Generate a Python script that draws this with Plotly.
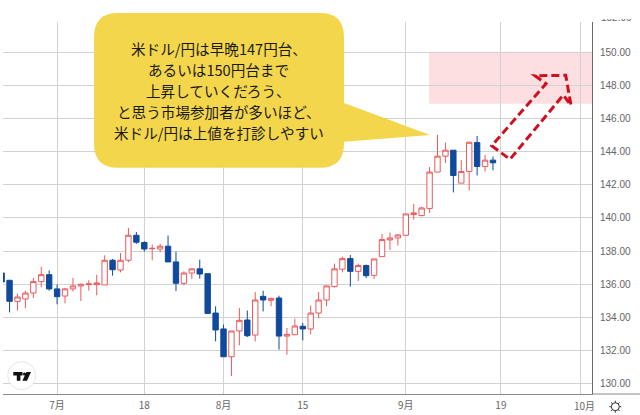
import math
import pandas as pd
import plotly.graph_objects as go

# ---- data -----------------------------------------------------------------
dates = pd.bdate_range("2022-06-22", periods=75).strftime("%Y-%m-%d").tolist()

opens = [136.67, 136.23, 134.96, 135.10, 135.46, 136.15, 136.57, 135.71, 135.28, 135.71, 135.89, 135.97, 135.97,
         135.95, 137.44, 136.85, 137.44, 138.95, 138.51, 138.14, 138.12, 138.29, 137.34, 136.05, 136.67, 136.92,
         136.63, 134.25, 133.29, 131.61, 133.17, 133.83, 132.92, 135.26, 135.02, 135.16, 132.86, 132.94, 133.45,
         133.29, 134.25, 135.04, 135.85, 136.90, 137.54, 136.77, 137.12, 136.53, 137.66, 138.67, 138.79, 138.95,
         140.20, 140.14, 140.56, 142.77, 143.73, 144.09, 142.10, 142.80, 144.55, 143.11, 143.49]
highs = [136.90, 136.25, 135.42, 135.60, 136.37, 137.04, 136.83, 135.97, 135.77, 136.37, 136.03, 136.23, 136.57,
         137.74, 137.52, 137.88, 139.40, 139.15, 138.59, 138.39, 138.43, 138.93, 137.96, 136.77, 136.96, 137.48,
         136.63, 134.66, 133.55, 133.17, 134.56, 134.40, 135.52, 135.60, 135.18, 135.30, 133.35, 133.91, 133.65,
         134.70, 135.52, 135.89, 137.24, 137.66, 137.76, 137.24, 137.18, 137.52, 139.03, 139.11, 139.01, 140.24,
         140.84, 140.68, 143.07, 145.01, 144.55, 144.09, 143.50, 144.61, 144.95, 143.81, 143.71]
lows = [135.90, 134.29, 134.40, 134.54, 135.16, 135.81, 135.60, 134.78, 134.84, 135.56, 134.98, 135.60, 135.32,
        135.95, 136.51, 136.71, 137.32, 138.43, 137.96, 137.44, 137.92, 137.34, 135.58, 135.93, 136.31, 136.33,
        134.23, 132.54, 131.61, 130.44, 132.30, 132.80, 132.54, 134.35, 134.66, 132.04, 131.73, 132.92, 132.60,
        132.96, 133.93, 134.66, 135.79, 136.71, 135.85, 136.19, 136.37, 136.31, 137.64, 138.06, 138.33, 138.91,
        139.90, 140.10, 140.30, 142.77, 143.31, 141.54, 142.10, 141.66, 142.56, 142.80, 142.87]
closes = [136.13, 134.96, 135.22, 135.46, 136.15, 136.57, 135.71, 135.24, 135.71, 135.89, 135.99, 136.01, 136.07,
          137.44, 136.87, 137.44, 138.95, 138.53, 138.12, 138.16, 138.29, 137.34, 136.05, 136.67, 136.92, 136.61,
          134.23, 133.23, 131.61, 133.17, 133.81, 132.88, 135.04, 135.04, 135.14, 132.86, 132.96, 133.47, 133.29,
          134.25, 135.04, 135.89, 136.92, 137.54, 136.77, 137.12, 136.51, 137.52, 138.69, 138.79, 138.97, 140.24,
          140.30, 140.60, 142.77, 143.73, 144.09, 142.56, 142.80, 144.57, 143.11, 143.49, 143.33]

tick_dates = ["2022-07-01", "2022-07-18", "2022-08-01", "2022-08-15", "2022-09-01", "2022-09-19", "2022-10-03"]
tick_labels = ["7月", "18", "8月", "15", "9月", "19", ""]
last_month_label = "10月"
price_ticks = [130, 132, 134, 136, 138, 140, 142, 144, 146, 148, 150]
callout_lines = ["米ドル/円は早晩147円台、", "あるいは150円台まで", "上昇していくだろう、",
                 "と思う市場参加者が多いほど、", "米ドル/円は上値を打診しやすい"]

# ---- layout helpers ---------------------------------------------------------
W, H = 640, 415
L, R, T, B = 3, 592, 22, 394
def fx(px): return (px - L) / (R - L)
def fy(py): return (B - py) / (B - T)
def P(px, py): return f"{fx(px):.5f},{fy(py):.5f}"
def poly(points): return "M" + " L".join(P(*p) for p in points)

def cat_pos(px): return (px - 57.1) / 7.925 + 7      # category slot at a pixel column
def price_at(py): return 150 - (py - 52.4) / 16.55

GRID = "#d2d2d2"
TICK = "#666666"
LABEL_FONT = dict(family="Liberation Sans, Arial, sans-serif", size=10, color=TICK)
CJK_FONT = dict(family="Noto Sans CJK JP, Liberation Sans, sans-serif", size=10, color=TICK)

fig = go.Figure(go.Candlestick(
    x=dates[:len(opens)], open=opens, high=highs, low=lows, close=closes,
    whiskerwidth=0,
    increasing=dict(line=dict(color="#ea5a5c", width=1), fillcolor="#ffffff"),
    decreasing=dict(line=dict(color="#0f4a9c", width=1), fillcolor="#0f4a9c"),
    showlegend=False, hoverinfo="skip",
))

shapes = []
# target zone
shapes.append(dict(type="rect", xref="paper", yref="paper", x0=fx(429), x1=fx(592), y0=fy(103.7), y1=fy(51.7),
                   fillcolor="rgba(250,170,178,0.38)", line=dict(width=0), layer="below"))
# speech bubble
bx0, bx1, by0, by1, r = 94, 344, 13, 167.7, 24
bubble = (f"M{P(bx0 + r, by0)} L{P(bx1 - r, by0)} Q{P(bx1, by0)} {P(bx1, by0 + r)} "
          f"L{P(bx1, 103)} L{P(430, 135)} L{P(bx1, 141.7)} L{P(bx1, by1 - r)} "
          f"Q{P(bx1, by1)} {P(bx1 - r, by1)} L{P(bx0 + r, by1)} Q{P(bx0, by1)} {P(bx0, by1 - r)} "
          f"L{P(bx0, by0 + r)} Q{P(bx0, by0)} {P(bx0 + r, by0)} Z")
shapes.append(dict(type="path", xref="paper", yref="paper", path=bubble, fillcolor="#f4d64c", line=dict(width=0), layer="above"))
# dashed arrow
arrow = poly([(491.7, 145.7), (510, 159.3), (563.3, 95), (571, 105.3), (565.7, 75.3), (535, 75.7), (546, 83.7)]) + " Z"
shapes.append(dict(type="path", xref="paper", yref="paper", path=arrow, fillcolor="rgba(0,0,0,0)",
                   line=dict(color="#cf0f20", width=3, dash="8px,4px"), layer="above"))
# bottom rule continuing under the price scale
shapes.append(dict(type="line", xref="paper", yref="paper", x0=fx(592), x1=fx(640), y0=0, y1=0,
                   line=dict(color="#8a8a8a", width=1), layer="above"))
# logo badge
shapes.append(dict(type="circle", xref="paper", yref="paper", x0=fx(7.7), x1=fx(35.7), y0=fy(389.7), y1=fy(361.7),
                   fillcolor="#ffffff", line=dict(color="#e6e6e6", width=1), layer="above"))
logo = (poly([(13.3, 372), (22.5, 372), (22.5, 375.6), (20.4, 375.6), (20.4, 380.7), (16.8, 380.7), (16.8, 375.6), (13.3, 375.6)]) + " Z "
        + poly([(26.4, 372), (31, 372), (27, 380.7), (22.4, 380.7)]) + " Z")
shapes.append(dict(type="path", xref="paper", yref="paper", path=logo, fillcolor="#111111", line=dict(width=0), layer="above"))
shapes.append(dict(type="circle", xref="paper", yref="paper", x0=fx(22.9), x1=fx(26.1), y0=fy(375.6), y1=fy(372.4),
                   fillcolor="#111111", line=dict(width=0), layer="above"))
# settings gear
gx, gy = 615.3, 406.7
shapes.append(dict(type="circle", xref="paper", yref="paper", x0=fx(gx - 4), x1=fx(gx + 4), y0=fy(gy + 4), y1=fy(gy - 4),
                   fillcolor="rgba(0,0,0,0)", line=dict(color="#333333", width=1), layer="above"))
spikes = " ".join(poly([(gx + 4 * math.cos(a), gy + 4 * math.sin(a)), (gx + 6 * math.cos(a), gy + 6 * math.sin(a))])
                  for a in [k * math.pi / 4 for k in range(8)])
shapes.append(dict(type="path", xref="paper", yref="paper", path=spikes, line=dict(color="#333333", width=1), layer="above"))

annotations = []
for k, line in enumerate(callout_lines):
    annotations.append(dict(xref="paper", yref="paper", x=fx(218.5), y=fy(48.3 + 21 * k), text=line, showarrow=False,
                            xanchor="center", yanchor="middle", borderpad=0,
                            font=dict(family="Noto Sans CJK JP, sans-serif", size=14.6, color="#1a1a1a")))
annotations.append(dict(xref="paper", yref="paper", x=fx(584), y=fy(405.3), text=last_month_label, showarrow=False,
                        xanchor="center", yanchor="middle", borderpad=0, font=CJK_FONT))
# the next price label up, cut off by the top of the scale
annotations.append(dict(xref="paper", yref="paper", x=fx(600), y=fy(24), text="152.00", showarrow=False,
                        xanchor="left", yanchor="bottom", valign="bottom", height=4, borderpad=0, font=LABEL_FONT))

fig.update_layout(
    width=W, height=H, autosize=False,
    margin=dict(l=L, r=W - R, t=T, b=H - B, pad=0),
    paper_bgcolor="#ffffff", plot_bgcolor="#ffffff",
    boxgap=0.32, boxgroupgap=0,
    hovermode=False, dragmode=False,
    shapes=shapes, annotations=annotations,
    xaxis=dict(type="category", categoryorder="array", categoryarray=dates,
               range=[cat_pos(L), cat_pos(R)], rangeslider=dict(visible=False),
               tickmode="array", tickvals=tick_dates, ticktext=tick_labels, tickangle=0,
               showgrid=True, gridcolor=GRID, gridwidth=1.2, ticks="", ticklabelstandoff=2,
               showline=True, linecolor="#8a8a8a", linewidth=1, tickfont=CJK_FONT, zeroline=False),
    yaxis=dict(side="right", range=[price_at(B), price_at(T)], tickmode="array", tickvals=price_ticks,
               tickformat=".2f", ticks="", ticklabelstandoff=5,
               showgrid=True, gridcolor=GRID, gridwidth=1.2, showline=True, linecolor="#6a6a6a", linewidth=1,
               tickfont=LABEL_FONT, zeroline=False),
)

fig.write_html("out.html", config=dict(displayModeBar=False, responsive=False),
               post_script="document.documentElement.style.margin='0';document.body.style.margin='0';document.body.style.overflow='hidden';")
